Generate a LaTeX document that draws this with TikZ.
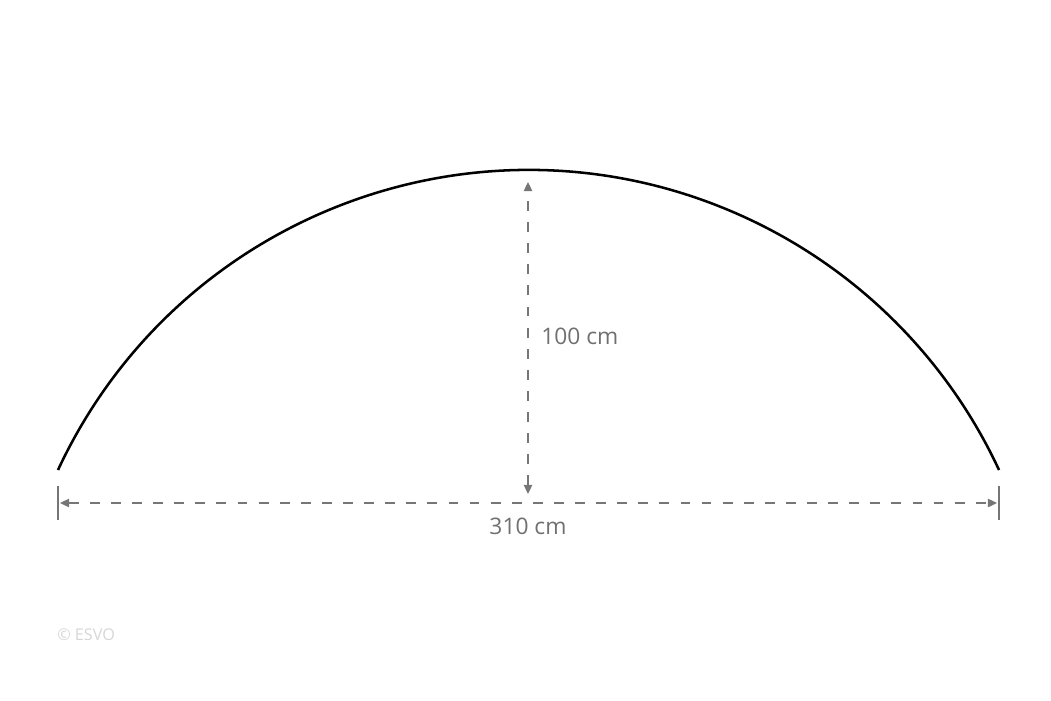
\documentclass[tikz,border=0pt]{standalone}
\usepackage{fontspec}
\setmainfont{Open Sans}
\usetikzlibrary{arrows.meta,positioning}
\definecolor{dimgrey}{RGB}{118,118,118}
\definecolor{textgrey}{RGB}{112,112,112}
\definecolor{markgrey}{RGB}{214,214,214}

\begin{document}
\begin{tikzpicture}[x=0.025cm, y=0.025cm,
    arcline/.style={line width=1.8pt, black},
    dimline/.style={dimgrey, line width=0.9pt, dash pattern=on 7pt off 8pt, {Triangle[length=6.5pt,width=6pt]}-{Triangle[length=6.5pt,width=6pt]}},
    tickline/.style={dimgrey, line width=0.9pt},
    dimlabel/.style={text=textgrey, font=\fontsize{16.2}{19}\selectfont, inner sep=0pt}]
      \useasboundingbox (0, 0) rectangle (1051, 700);

      % the arch
      \coordinate (left end) at (58, 230);
      \coordinate (right end) at (999, 230);
      \draw[arcline] (left end) arc[start angle=155.04, end angle=24.96, radius=519];

      % height
      \coordinate (h bottom) at (528, 206);
      \coordinate (h top) at (528, 518);
      \draw[dimline] (h bottom) -- (h top);
      \node[dimlabel, anchor=west] (height) at (541, 364) {100 cm};

      % width
      \coordinate (w left) at (60, 197);
      \coordinate (w right) at (997, 197);
      \draw[dimline] (w left) -- (w right);
      \draw[tickline] (58, 180) -- (58, 214);
      \draw[tickline] (999, 180) -- (999, 214);
      \node[dimlabel] (width) at (528, 174) {310 cm};

      \node[text=markgrey, font=\fontsize{11.5}{13}\selectfont, anchor=west, inner sep=0pt] (credit) at (57, 65) {© ESVO};
    \end{tikzpicture}
\end{document}
